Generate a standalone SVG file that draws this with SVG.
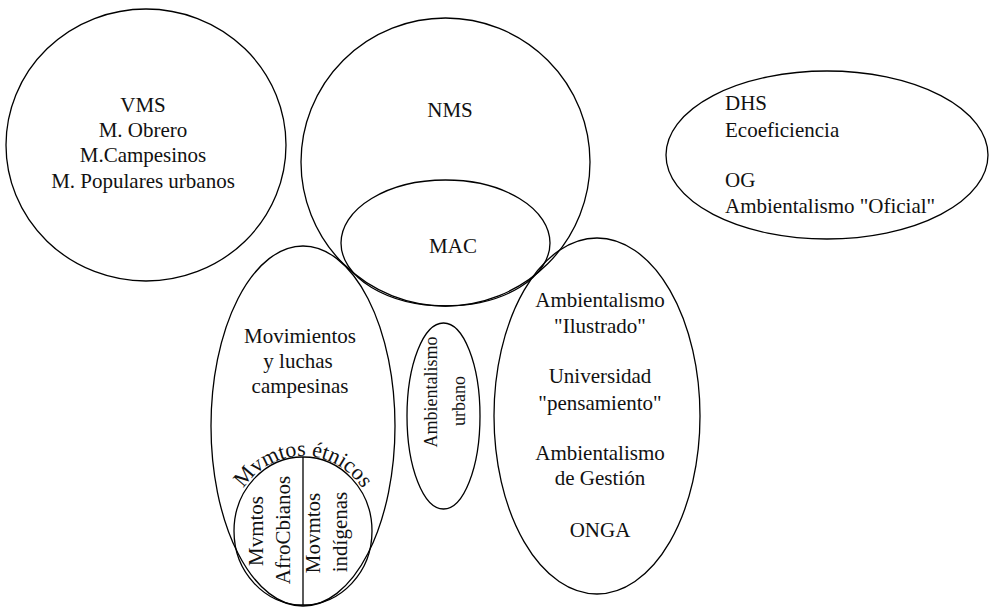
<svg xmlns="http://www.w3.org/2000/svg" width="989" height="608" viewBox="0 0 989 608">
<style>
.sh{fill:none;stroke:#000;stroke-width:1.3}
text{font-family:"Liberation Serif","Times New Roman",serif;font-size:21px;fill:#111}
.m{text-anchor:middle}
.s{font-size:18px}
.arc{font-size:22px}
</style>
<defs>
<path id="arcEt" d="M 231,531 A 72,75 0 0 1 375,531"/>
</defs>
<rect width="989" height="608" fill="#fff"/>
<g id="vms">
<ellipse class="sh" cx="146" cy="145" rx="140" ry="136"/>
<text class="m" x="143" y="112">VMS</text>
<text class="m" x="143" y="137">M. Obrero</text>
<text class="m" x="143" y="162">M.Campesinos</text>
<text class="m" x="143" y="188">M. Populares urbanos</text>
</g>
<g id="nms">
<ellipse class="sh" cx="445.5" cy="162" rx="144.5" ry="144"/>
<text class="m" x="450" y="117">NMS</text>
</g>
<g id="mac">
<ellipse class="sh" cx="445.5" cy="243" rx="104.5" ry="63"/>
<text class="m" x="453" y="253">MAC</text>
</g>
<g id="dhs">
<ellipse class="sh" cx="827" cy="155" rx="161" ry="84"/>
<text x="725" y="110">DHS</text>
<text x="725" y="137">Ecoeficiencia</text>
<text x="725" y="187">OG</text>
<text x="725" y="213">Ambientalismo "Oficial"</text>
</g>
<g id="campesinas">
<ellipse class="sh" cx="303" cy="426" rx="92" ry="180"/>
<text class="m" x="300" y="343">Movimientos</text>
<text class="m" x="298" y="368">y luchas</text>
<text class="m" x="300" y="393">campesinas</text>
</g>
<g id="etnicos">
<ellipse class="sh" cx="303" cy="531" rx="69" ry="74"/>
<line class="sh" x1="303" y1="457" x2="303" y2="605"/>
<text class="m arc"><textPath href="#arcEt" startOffset="50%">Mvmtos étnicos</textPath></text>
<text class="m" transform="translate(263,531) rotate(-90)">Mvmtos</text>
<text class="m" transform="translate(290,530) rotate(-90)">AfroCbianos</text>
<text class="m" transform="translate(320,533) rotate(-90)">Movmtos</text>
<text class="m" transform="translate(347,532) rotate(-90)">indígenas</text>
</g>
<g id="urbano">
<ellipse class="sh" cx="443.5" cy="416" rx="36.5" ry="93"/>
<text class="m s" transform="translate(437,392) rotate(-90)">Ambientalismo</text>
<text class="m s" transform="translate(465,401) rotate(-90)">urbano</text>
</g>
<g id="ilustrado">
<ellipse class="sh" cx="597" cy="416" rx="103" ry="178"/>
<text class="m" x="600" y="307">Ambientalismo</text>
<text class="m" x="600" y="333">"Ilustrado"</text>
<text class="m" x="600" y="383">Universidad</text>
<text class="m" x="600" y="410">"pensamiento"</text>
<text class="m" x="600" y="460">Ambientalismo</text>
<text class="m" x="600" y="485">de Gestión</text>
<text class="m" x="600" y="537">ONGA</text>
</g>
<g id="connectors"></g>
</svg>
